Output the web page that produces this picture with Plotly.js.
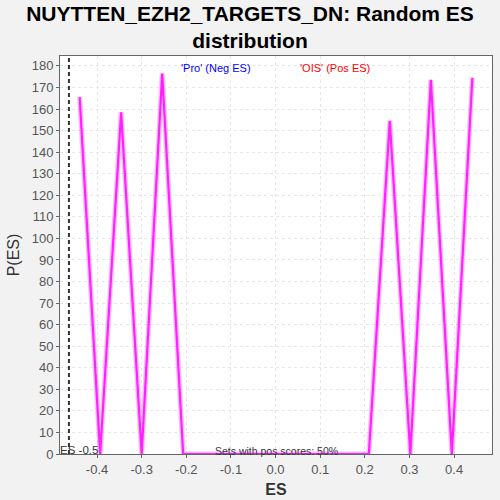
<!DOCTYPE html>
<html><head><meta charset="utf-8">
<script src="https://cdn.plot.ly/plotly-3.0.1.min.js"></script>
<style>html,body{margin:0;padding:0;background:#f2f2f2;}#chart{width:500px;height:500px;}</style>
</head><body><div id="chart"></div>
<script>
const esValues = [-0.439, -0.393, -0.346, -0.300, -0.254, -0.207, -0.161, -0.115, -0.068, -0.022, 0.024, 0.070, 0.117, 0.163, 0.209, 0.256, 0.302, 0.348, 0.395, 0.441];
const pValues  = [165.5, 0, 158.5, 0, 176.5, 0, 0, 0, 0, 0, 0, 0, 0, 0, 0, 154.5, 0, 173.5, 0, 174.5];
const actualES = -0.463;
const xTicks = [-0.4, -0.3, -0.2, -0.1, 0.0, 0.1, 0.2, 0.3, 0.4];
const xTickText = ["-0.4", "-0.3", "-0.2", "-0.1", "0.0", "0.1", "0.2", "0.3", "0.4"];
const yTicks = [0,10,20,30,40,50,60,70,80,90,100,110,120,130,140,150,160,170,180];

const traces = [
  {x: esValues, y: pValues, mode: 'lines', line: {color: 'rgba(255,0,255,0.25)', width: 5}, hoverinfo: 'skip', showlegend: false},
  {x: esValues, y: pValues, mode: 'lines', line: {color: '#ff22ff', width: 2.2}, showlegend: false},
  {x: [actualES, actualES], y: [0, 190], mode: 'lines', line: {color: '#333333', width: 2, dash: '4px,3px'}, showlegend: false},
  {x: [-0.397], y: [1.5], mode: 'text', text: ['Actual ES -0.5'], textposition: 'middle left', cliponaxis: true,
   textfont: {family: 'Liberation Sans, Arial, sans-serif', size: 11.5, color: '#333333'}, showlegend: false}
];

const layout = {
  width: 500, height: 500,
  paper_bgcolor: '#f2f2f2', plot_bgcolor: '#ffffff',
  margin: {l: 60, r: 8, t: 56, b: 46},
  title: {text: 'NUYTTEN_EZH2_TARGETS_DN: Random ES<br>distribution', x: 0.5, xanchor: 'center', y: 0.959, yanchor: 'top',
          font: {family: 'Liberation Sans, Arial, sans-serif', size: 21, color: '#000000', weight: 'bold'}},
  xaxis: {range: [-0.483, 0.485], tickvals: xTicks, ticktext: xTickText, zeroline: false,
          showgrid: true, gridcolor: '#e6e6e6', griddash: '3px,3px', gridwidth: 1,
          showline: true, linecolor: '#666666', linewidth: 1, mirror: true, ticks: 'outside', ticklen: 3, tickcolor: '#666666',
          tickfont: {family: 'Liberation Sans, Arial, sans-serif', size: 13, color: '#555555'},
          title: {text: 'ES', standoff: 8, font: {family: 'Liberation Sans, Arial, sans-serif', size: 16, color: '#333333', weight: 'bold'}}},
  yaxis: {range: [0, 184.6], tickvals: yTicks, zeroline: false,
          showgrid: true, gridcolor: '#e6e6e6', griddash: '3px,3px', gridwidth: 1,
          showline: true, linecolor: '#666666', linewidth: 1, mirror: true, ticks: 'outside', ticklen: 3, tickcolor: '#666666',
          tickfont: {family: 'Liberation Sans, Arial, sans-serif', size: 13, color: '#555555'},
          title: {text: 'P(ES)', standoff: 8, font: {family: 'Liberation Sans, Arial, sans-serif', size: 16, color: '#333333'}}},
  annotations: [
    {x: 0.5, y: 1.5, xref: 'paper', yref: 'y', text: 'Sets with pos scores: 50%', showarrow: false, xanchor: 'center', yanchor: 'middle',
     font: {family: 'Liberation Sans, Arial, sans-serif', size: 10.5, color: '#333333'}},
    {x: 0.361, y: 0.99, xref: 'paper', yref: 'paper', text: "'Pro' (Neg ES)", showarrow: false, xanchor: 'center', yanchor: 'top',
     font: {family: 'Liberation Sans, Arial, sans-serif', size: 11, color: '#0000ff'}},
    {x: 0.637, y: 0.99, xref: 'paper', yref: 'paper', text: "'OIS' (Pos ES)", showarrow: false, xanchor: 'center', yanchor: 'top',
     font: {family: 'Liberation Sans, Arial, sans-serif', size: 11, color: '#ff0000'}}
  ]
};
Plotly.newPlot('chart', traces, layout, {displayModeBar: false, staticPlot: true});
</script>
</body></html>
